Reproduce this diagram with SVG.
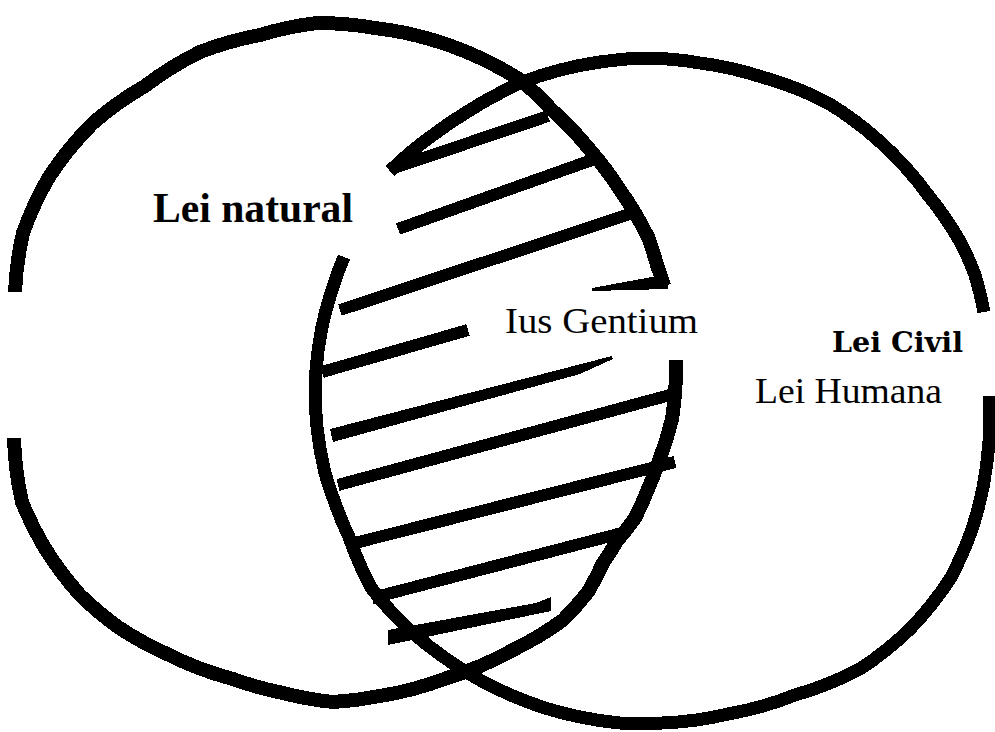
<svg xmlns="http://www.w3.org/2000/svg" width="995" height="732" viewBox="0 0 995 732">
<style>
.arc{fill:none;stroke:#000;stroke-linejoin:round;stroke-linecap:butt;shape-rendering:crispEdges}
.hatch{fill:none;stroke:#000;stroke-width:12;stroke-linecap:butt;shape-rendering:crispEdges}
.wedge{fill:#000;stroke:none;shape-rendering:crispEdges}
.t{fill:#000;font-family:"Liberation Serif","Times New Roman",serif}
</style>
<rect width="995" height="732" fill="#fff"/>
<g id="node-lei-natural">
<path class="arc" stroke-width="14" d="M15,292 A335,335 0 0 1 23,233 A335,335 0 0 1 49,177 A335,335 0 0 1 93,123 A335,335 0 0 1 145,86 A335,335 0 0 1 200,52 A335,335 0 0 1 260,35 A335,335 0 0 1 317,23 A335,335 0 0 1 375,28 A335,335 0 0 1 433,40 A335,335 0 0 1 500,68 A335,335 0 0 1 522,81 A335,335 0 0 1 553,111 A335,335 0 0 1 590,150 A335,335 0 0 1 620,190 A335,335 0 0 1 648,237 A335,335 0 0 1 657,265 A335,335 0 0 1 664,286"/>
<path class="arc" stroke-width="14" d="M676,360 A335,335 0 0 1 672,419 A335,335 0 0 1 660,458 A335,335 0 0 1 648,489 A335,335 0 0 1 635,518 A335,335 0 0 1 617,541 A335,335 0 0 1 603,563 A335,335 0 0 1 588,592 A335,335 0 0 1 563,620 A335,335 0 0 1 513,650 A335,335 0 0 1 447,678 A335,335 0 0 1 380,696 A335,335 0 0 1 333,702 A335,335 0 0 1 283,693 A335,335 0 0 1 233,679 A335,335 0 0 1 167,654 A335,335 0 0 1 118,627 A335,335 0 0 1 80,595 A335,335 0 0 1 43,545 A335,335 0 0 1 22,502 A335,335 0 0 1 14,438"/>
<text class="t" x="153" y="222" font-size="42" font-weight="bold" textLength="200" lengthAdjust="spacingAndGlyphs">Lei natural</text>
</g>
<g id="node-lei-civil">
<path class="arc" stroke-width="13" d="M390,171 A335,335 0 0 1 433,135 A335,335 0 0 1 467,112 A335,335 0 0 1 500,93 A335,335 0 0 1 520,83 A335,335 0 0 1 560,70 A335,335 0 0 1 600,62 A335,335 0 0 1 645,58 A335,335 0 0 1 700,63 A335,335 0 0 1 762,77 A335,335 0 0 1 828,103 A335,335 0 0 1 878,140 A335,335 0 0 1 928,195 A335,335 0 0 1 962,245 A335,335 0 0 1 975,275 A335,335 0 0 1 984,312"/>
<path class="arc" stroke-width="13" d="M989,396 A335,335 0 0 1 987,462 A335,335 0 0 1 972,529 A335,335 0 0 1 950,579 A335,335 0 0 1 910,629 A335,335 0 0 1 860,669 A335,335 0 0 1 795,695 A335,335 0 0 1 728,714 A335,335 0 0 1 662,723 A335,335 0 0 1 620,723 A335,335 0 0 1 580,717 A335,335 0 0 1 513,696 A335,335 0 0 1 480,680 A335,335 0 0 1 445,658 A335,335 0 0 1 413,633 A335,335 0 0 1 372,589 A335,335 0 0 1 349,537 A335,335 0 0 1 335,503 A335,335 0 0 1 325,473 A335,335 0 0 1 317,427 A335,335 0 0 1 316,370 A335,335 0 0 1 322,327 A335,335 0 0 1 331,293 A335,335 0 0 1 344,257"/>
<text class="t" x="832" y="352" font-size="27" font-weight="bold" style="font-family:'DejaVu Serif',serif" textLength="131" lengthAdjust="spacingAndGlyphs">Lei Civil</text>
<text class="t" x="755" y="403" font-size="35" textLength="187" lengthAdjust="spacingAndGlyphs">Lei Humana</text>
</g>
<g id="node-ius-gentium">
<line class="hatch" x1="394" y1="168" x2="548" y2="116"/>
<line class="hatch" x1="398" y1="229" x2="592" y2="160"/>
<line class="hatch" x1="340" y1="310" x2="630" y2="214"/>
<line class="hatch" x1="322" y1="372" x2="468" y2="330"/>
<polygon class="wedge" points="592,288 668,274 668,289 592,291"/>
<polygon class="wedge" points="330,429 612,356 613,359 580,374 333,442"/>
<line class="hatch" x1="338" y1="485" x2="670" y2="395"/>
<line class="hatch" x1="355" y1="543" x2="675" y2="462"/>
<line class="hatch" x1="372" y1="598" x2="622" y2="533"/>
<polygon class="wedge" points="388,630 536,603 551,597 551,611 388,645"/>
<text class="t" x="505" y="333" font-size="35" textLength="193" lengthAdjust="spacingAndGlyphs">Ius Gentium</text>
</g>
<g id="connectors"/>
</svg>
